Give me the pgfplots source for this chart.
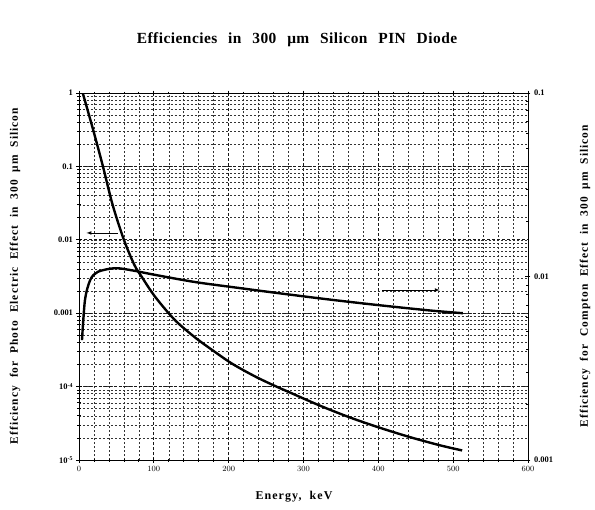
\documentclass[border=0pt]{standalone}
\usepackage{fontspec}
\setmainfont{Liberation Serif}
\newfontfamily\spaced[LetterSpace=9, WordSpace=2]{Liberation Serif}
\newfontfamily\titlefont[LetterSpace=3, WordSpace=2.5]{Liberation Serif}
\usepackage{pgfplots}
\pgfplotsset{compat=1.18}

% photo electric effect (left axis)
\pgfplotstableread{
E      eff
5      1
19     0.313
32     0.1
45     0.0298
60     0.01
74     4.55e-3
84     3.11e-3
102    1.66e-3
128    8.1e-4
155    4.68e-4
182    2.95e-4
205    2.04e-4
235    1.38e-4
262    1.02e-4
282    8.3e-5
322    5.5e-5
362    3.8e-5
402    2.75e-5
443    2.04e-5
483    1.58e-5
512    1.35e-5
}\photo

% Compton effect (right axis)
\pgfplotstableread{
E      eff
4      4.5e-3
8      7.45e-3
15     9.57e-3
25     0.0106
48     0.0111
71     0.0108
102    0.0102
155    9.33e-3
209    8.71e-3
269    8.09e-3
336    7.48e-3
402    6.97e-3
469    6.53e-3
513    6.31e-3
}\compton

\begin{document}
\begin{tikzpicture}
\useasboundingbox (-79bp,-50bp) rectangle (516bp,460bp);
\pgfplotsset{
  every axis/.append style={
    scale only axis, width=449bp, height=367bp,
    at={(0,0)}, anchor=south west,
    xmin=0, xmax=600, ymode=log,
    axis line style={line width=1pt},
    tick style={black, line width=0.8pt},
    tick align=center,
    major tick length=5bp, minor tick length=3bp,
    tick label style={font=\bfseries\fontsize{8.5}{10}\selectfont},
  }
}
\begin{axis}[
  ymin=1e-5, ymax=1,
  xtick={0,100,...,600}, minor x tick num=4,
  ytick={1e-5,1e-4,1e-3,1e-2,1e-1,1},
  yticklabels={10\textsuperscript{-5},10\textsuperscript{-4},0.001,0.01,0.1,1},
  ytick pos=left, xtick pos=both,
  xticklabel pos=bottom,
  grid=both,
  major grid style={black!90, line width=0.75pt, dash pattern=on 3pt off 2pt},
  minor grid style={black!80, line width=0.55pt, dash pattern=on 2pt off 2pt},
]
\addplot[black, line width=2.4pt, smooth, tension=0.5] table[x=E, y=eff] {\photo};
\draw[-latex, line width=0.7pt] (axis cs:52,0.0124) -- (axis cs:10,0.0124);
\draw[-latex, line width=0.7pt] (axis cs:405,2.07e-3) -- (axis cs:482,2.07e-3);
\end{axis}
\begin{axis}[
  ymin=1e-3, ymax=0.1,
  axis y line*=right, axis x line=none,
  ytick={1e-3,1e-2,1e-1},
  yticklabels={0.001,0.01,0.1},
]
\addplot[black, line width=2.4pt, smooth, tension=0.5] table[x=E, y=eff] {\compton};
\end{axis}
\node[font=\titlefont\bfseries\fontsize{15.5}{17}\selectfont] at (218bp,420bp) {Efficiencies in 300 μm Silicon PIN Diode};
\node[font=\spaced\bfseries\fontsize{12}{14}\selectfont] at (215bp,-37bp) {Energy, keV};
\node[rotate=90, font=\spaced\bfseries\fontsize{11.5}{13}\selectfont] at (-64bp,184bp) {Efficiency for Photo Electric Effect in 300 μm Silicon};
\node[rotate=90, font=\spaced\bfseries\fontsize{11.5}{13}\selectfont] at (506bp,184bp) {Efficiency for Compton Effect in 300 μm Silicon};
\end{tikzpicture}
\end{document}
